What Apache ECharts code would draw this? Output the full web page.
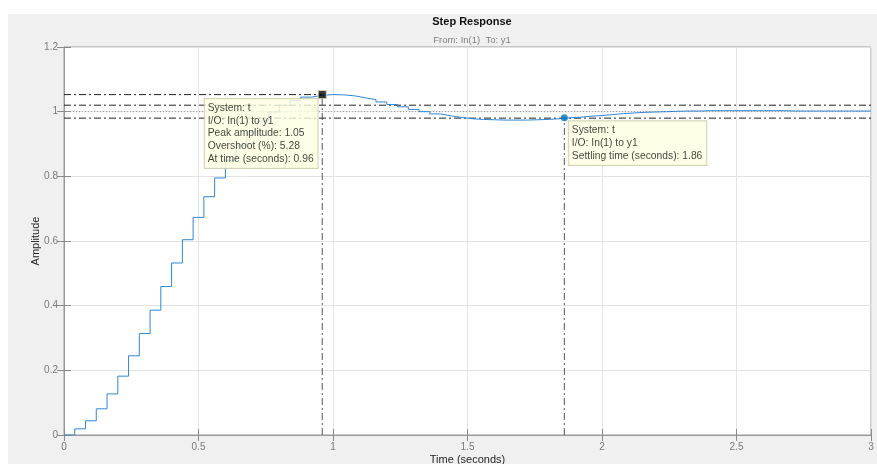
<!DOCTYPE html>
<html>
<head>
<meta charset="utf-8">
<script src="https://cdn.jsdelivr.net/npm/echarts@6/dist/echarts.min.js"></script>
<style>
  html, body { margin: 0; padding: 0; background: #ffffff; }
  #panel { position: absolute; left: 8px; top: 14px; width: 869px; height: 450px; background: #f0f0f0; }
  #chart { position: absolute; left: 0; top: 0; width: 877px; height: 464px; }
</style>
</head>
<body>
<div id="panel"></div>
<div id="chart"></div>
<script>
// Discrete step response of system "t", sampled every 0.04 s (zero-order hold)
const sampleTime = 0.04;
const timeMax = 3;
const responseValues = [
  0, 0.019, 0.044, 0.081, 0.127, 0.182, 0.245, 0.314, 0.386, 0.459,
  0.532, 0.604, 0.673, 0.737, 0.795, 0.849, 0.896, 0.937, 0.971, 0.999,
  1.020, 1.035, 1.045, 1.0505, 1.0528, 1.052, 1.049, 1.043, 1.037, 1.030,
  1.022, 1.015, 1.007, 1.000, 0.993, 0.987, 0.982, 0.978, 0.976, 0.975,
  0.974, 0.974, 0.974, 0.975, 0.976, 0.978, 0.981, 0.983, 0.986, 0.988,
  0.991, 0.994, 0.996, 0.998, 0.999, 1.000, 1.001, 1.002, 1.002, 1.003,
  1.003, 1.003, 1.003, 1.003, 1.003, 1.003, 1.003, 1.002, 1.002, 1.002,
  1.002, 1.002, 1.002, 1.002, 1.002
];

// Step characteristics shown in the data tips
const finalValue = 1;
const settlingBand = 0.02;
const peakAmplitude = 1.0528;
const overshootPct = 5.28;
const peakTime = 0.96;
const settlingTime = 1.86;

// Axis ticks
const xTickLabels = ['0', '0.5', '1', '1.5', '2', '2.5', '3'];
const yTickLabels = ['0', '0.2', '0.4', '0.6', '0.8', '1', '1.2'];

const responseData = responseValues.map((v, k) => [+(k * sampleTime).toFixed(4), v]);
responseData.push([timeMax, responseValues[responseValues.length - 1]]);

const settleIndex = Math.min(Math.floor(settlingTime / sampleTime + 1e-9), responseValues.length - 1);
const settleValue = responseValues[settleIndex];

const FONT = 'Liberation Sans, Arial, sans-serif';
const dashDot = [7, 3, 2, 3];
const refLine = (data, color, type, width) => ({
  type: 'line', data: data, showSymbol: false, silent: true, z: 3,
  lineStyle: { color: color, width: width || 1, type: type },
  animation: false
});

const tipText = {
  fontFamily: FONT,
  fontSize: 10.3,
  lineHeight: 12.6,
  color: '#111111',
  backgroundColor: '#ffffe1',
  borderColor: '#c8c8a6',
  borderWidth: 1,
  padding: [3, 4, 3, 3],
  align: 'left',
  verticalAlign: 'top'
};

const chart = echarts.init(document.getElementById('chart'), null, { renderer: 'canvas' });
chart.setOption({
  animation: false,
  title: {
    text: 'Step Response',
    subtext: 'From: In(1)  To: y1',
    left: 467,
    textAlign: 'center',
    top: 11,
    itemGap: 8,
    textStyle: { fontFamily: FONT, fontSize: 11, fontWeight: 'bold', color: '#111111' },
    subtextStyle: { fontFamily: FONT, fontSize: 9.5, color: '#808080' }
  },
  grid: {
    left: 64, right: 6, top: 47, bottom: 29,
    outerBoundsMode: 'none',
    containLabel: false,
    show: true, backgroundColor: '#ffffff', borderColor: '#9a9a9a', borderWidth: 1
  },
  xAxis: [{
    type: 'value', min: 0, max: timeMax, interval: 0.5,
    name: 'Time (seconds)', nameLocation: 'middle', nameGap: 19, nameMoveOverlap: false,
    nameTextStyle: { fontFamily: FONT, fontSize: 11, color: '#262626' },
    axisLine: { show: true, onZero: false, lineStyle: { color: '#9a9a9a', width: 1 } },
    axisTick: { show: true, inside: true, length: 6, lineStyle: { color: '#8a8a8a' } },
    axisLabel: {
      margin: 7, fontFamily: FONT, fontSize: 10, color: '#7a7a7a',
      formatter: (v) => xTickLabels[Math.round(v / 0.5)]
    },
    splitLine: { show: true, lineStyle: { color: '#e3e3e3', width: 1 } }
  }, {
    type: 'value', min: 0, max: timeMax, interval: 0.5, position: 'top',
    axisLine: { show: false }, axisLabel: { show: false }, splitLine: { show: false },
    axisTick: { show: true, inside: true, length: 6, lineStyle: { color: '#8a8a8a' } }
  }],
  yAxis: [{
    type: 'value', min: 0, max: 1.2, interval: 0.2,
    name: 'Amplitude', nameLocation: 'middle', nameGap: 23, nameRotate: 90, nameMoveOverlap: false,
    nameTextStyle: { fontFamily: FONT, fontSize: 11, color: '#262626' },
    axisLine: { show: true, onZero: false, lineStyle: { color: '#9a9a9a', width: 1 } },
    axisTick: { show: true, inside: true, length: 7, lineStyle: { color: '#8a8a8a' } },
    axisLabel: {
      margin: 6, fontFamily: FONT, fontSize: 10, color: '#7a7a7a',
      formatter: (v) => yTickLabels[Math.round(v / 0.2)]
    },
    splitLine: { show: true, lineStyle: { color: '#e3e3e3', width: 1 } }
  }, {
    type: 'value', min: 0, max: 1.2, interval: 0.2, position: 'right',
    axisLine: { show: false }, axisLabel: { show: false }, splitLine: { show: false },
    axisTick: { show: true, inside: true, length: 7, lineStyle: { color: '#8a8a8a' } }
  }],
  series: [
    // final value and settling band
    refLine([[0, finalValue], [timeMax, finalValue]], '#9a9a9a', [1, 2]),
    refLine([[0, finalValue * (1 + settlingBand)], [timeMax, finalValue * (1 + settlingBand)]], '#222222', dashDot),
    refLine([[0, finalValue * (1 - settlingBand)], [timeMax, finalValue * (1 - settlingBand)]], '#222222', dashDot),
    // peak guides
    refLine([[0, peakAmplitude], [peakTime, peakAmplitude]], '#222222', dashDot),
    refLine([[peakTime, 0], [peakTime, peakAmplitude]], '#555555', dashDot),
    // settling time guide
    refLine([[settlingTime, 0], [settlingTime, settleValue]], '#555555', dashDot),
    {
      name: 't', type: 'line', step: 'end', data: responseData,
      showSymbol: false, z: 4,
      lineStyle: { color: '#2f86d2', width: 1 }
    },
    {
      type: 'scatter', z: 6, symbol: 'rect', symbolSize: 8,
      data: [[peakTime, peakAmplitude]],
      itemStyle: { color: '#000000', borderColor: '#d8d8b0', borderWidth: 1 },
      label: Object.assign({
        show: true,
        position: [-113, 9],
        formatter: [
          'System: t',
          'I/O: In(1) to y1',
          'Peak amplitude: ' + peakAmplitude.toFixed(2),
          'Overshoot (%): ' + overshootPct.toFixed(2),
          'At time (seconds): ' + peakTime.toFixed(2)
        ].join('\n')
      }, tipText)
    },
    {
      type: 'scatter', z: 6, symbol: 'circle', symbolSize: 7,
      data: [[settlingTime, settleValue]],
      itemStyle: { color: '#0072bd' },
      label: Object.assign({
        show: true,
        position: [8, 7],
        formatter: [
          'System: t',
          'I/O: In(1) to y1',
          'Settling time (seconds): ' + settlingTime.toFixed(2)
        ].join('\n')
      }, tipText)
    }
  ]
});
</script>
</body>
</html>
